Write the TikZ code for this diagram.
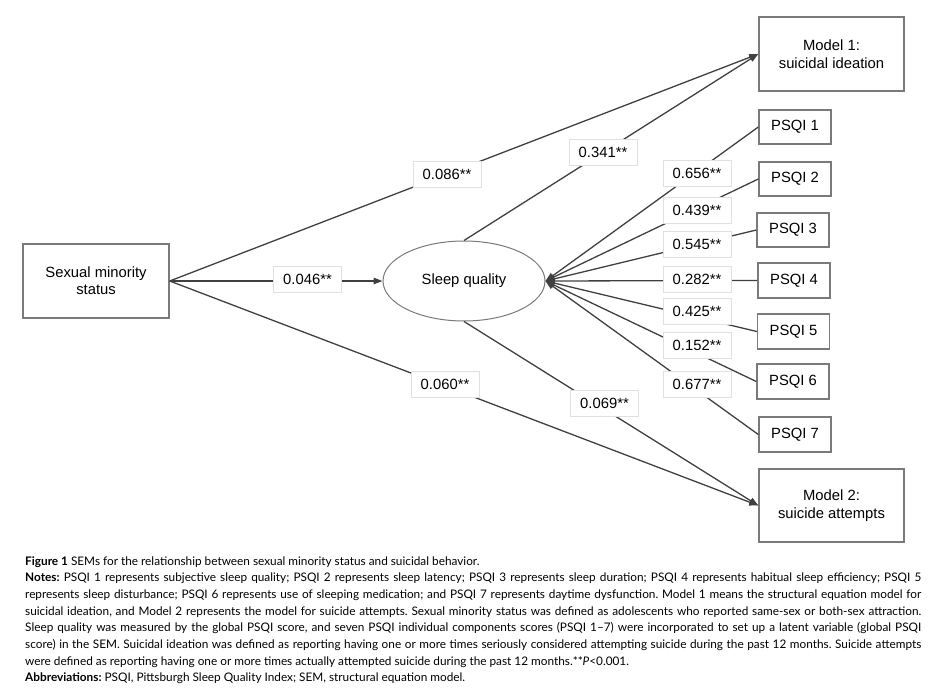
\documentclass[tikz,border=0pt]{standalone}
\usepackage{fontspec}
\setmainfont{Liberation Sans}
\newfontfamily\capfont{Lato}
\usetikzlibrary{shapes.geometric,arrows.meta}
\definecolor{boxgray}{HTML}{7A7A7A}
\definecolor{linegray}{HTML}{404040}
\newcommand\capline[1]{\hbox to 896pt{#1}}
\begin{document}
\frenchspacing
\begin{tikzpicture}[x=1pt,y=-1pt,
  box/.style={draw=boxgray, line width=1.4pt, fill=white, inner sep=0pt, align=center,
    font=\fontsize{14.8}{18}\selectfont},
  latent/.style={ellipse, draw=boxgray, line width=1pt, fill=white, inner sep=0pt,
    minimum width=162pt, minimum height=80pt, font=\fontsize{14.8}{18}\selectfont},
  coef/.style={fill=white, draw=black!12, line width=0.8pt, minimum width=68pt,
    minimum height=26pt, inner sep=0pt, font=\fontsize{14.8}{18}\selectfont},
  conn/.style={draw=linegray, line width=1.3pt, -{Triangle[length=9pt,width=6.5pt]}},
  capl/.style={anchor=base west, inner sep=0pt, font=\capfont\fontsize{11.8}{17}\selectfont}
  ]
\useasboundingbox (0,0) rectangle (934,690);

% nodes
\node[box, minimum width=146pt, minimum height=74pt] (sm) at (96,281) {\raisebox{-3pt}{\shortstack{Sexual minority\\[1pt]status}}};
\node[latent] (sq) at (464,281) {Sleep quality};
\node[box, minimum width=145pt, minimum height=74pt] (m1) at (831.5,54) {Model 1:\\suicidal ideation};
\node[box, minimum width=145pt, minimum height=73pt] (m2) at (831.5,505.5) {Model 2:\\suicide attempts};
\node[box, minimum width=72pt, minimum height=34pt] (p1) at (795,127) {PSQI 1};
\node[box, minimum width=72pt, minimum height=34pt] (p2) at (795,179) {PSQI 2};
\node[box, minimum width=72pt, minimum height=34pt] (p3) at (793,230) {PSQI 3};
\node[box, minimum width=72pt, minimum height=35pt] (p4) at (794,280.5) {PSQI 4};
\node[box, minimum width=72pt, minimum height=35pt] (p5) at (793.5,331.5) {PSQI 5};
\node[box, minimum width=72pt, minimum height=35pt] (p6) at (793,381.5) {PSQI 6};
\node[box, minimum width=72pt, minimum height=35pt] (p7) at (795,434.5) {PSQI 7};

% connectors
\draw[conn] (sm.east) -- (m1.west);
\draw[conn] (sm.east) -- (m2.west);
\draw[conn] (sm.east) -- (sq.west);
\draw[conn] (sq.north) -- (m1.west);
\draw[conn] (sq.south) -- (m2.west);
\foreach \p in {p1,p2,p3,p4,p5,p6,p7}
  \draw[conn] (\p.west) -- (sq.east);

% coefficients
\node[coef] (c1) at (447,174.5) {0.086**};
\node[coef] (c2) at (603,152) {0.341**};
\node[coef] (c3) at (307.5,279) {0.046**};
\node[coef] (c4) at (445,384) {0.060**};
\node[coef] (c5) at (604.5,403.5) {0.069**};
\node[coef] (k1) at (697,173.5) {0.656**};
\node[coef] (k2) at (697,210) {0.439**};
\node[coef] (k3) at (697,244) {0.545**};
\node[coef] (k4) at (697,279) {0.282**};
\node[coef] (k5) at (697,311) {0.425**};
\node[coef] (k6) at (697,345.5) {0.152**};
\node[coef] (k7) at (697,384) {0.677**};

% caption
\node[capl] (l1) at (25,565) {\textbf{Figure 1} SEMs for the relationship between sexual minority status and suicidal behavior.};
\node[capl] (l2) at (25,581.7) {\capline{\textbf{Notes:} PSQI 1 represents subjective sleep quality; PSQI 2 represents sleep latency; PSQI 3 represents sleep duration; PSQI 4 represents habitual sleep efficiency; PSQI 5}};
\node[capl] (l3) at (25,598.4) {\capline{represents sleep disturbance; PSQI 6 represents use of sleeping medication; and PSQI 7 represents daytime dysfunction. Model 1 means the structural equation model for}};
\node[capl] (l4) at (25,615.1) {\capline{suicidal ideation, and Model 2 represents the model for suicide attempts. Sexual minority status was defined as adolescents who reported same-sex or both-sex attraction.}};
\node[capl] (l5) at (25,631.8) {\capline{Sleep quality was measured by the global PSQI score, and seven PSQI individual components scores (PSQI 1–7) were incorporated to set up a latent variable (global PSQI}};
\node[capl] (l6) at (25,648.5) {\capline{score) in the SEM. Suicidal ideation was defined as reporting having one or more times seriously considered attempting suicide during the past 12 months. Suicide attempts}};
\node[capl] (l7) at (25,665.2) {were defined as reporting having one or more times actually attempted suicide during the past 12 months.**\textit{P}<0.001.};
\node[capl] (l8) at (25,681.9) {\textbf{Abbreviations:} PSQI, Pittsburgh Sleep Quality Index; SEM, structural equation model.};
\end{tikzpicture}
\end{document}
